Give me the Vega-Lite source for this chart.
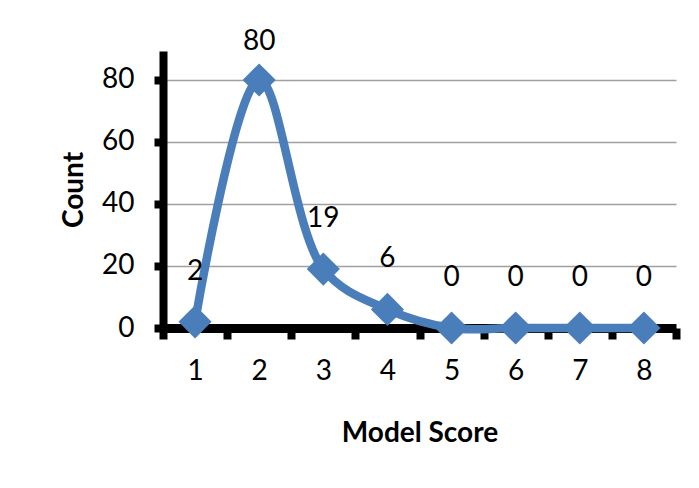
{
  "$schema": "https://vega.github.io/schema/vega-lite/v6.json",
  "width": 513,
  "height": 277,
  "autosize": "none",
  "padding": {"left": 163, "top": 51, "right": 23, "bottom": 160},
  "background": "white",
  "data": {
    "values": [
      {"score": "1", "count": 2},
      {"score": "2", "count": 80},
      {"score": "3", "count": 19},
      {"score": "4", "count": 6},
      {"score": "5", "count": 0},
      {"score": "6", "count": 0},
      {"score": "7", "count": 0},
      {"score": "8", "count": 0}
    ]
  },
  "encoding": {
    "x": {
      "field": "score",
      "type": "ordinal",
      "title": "Model Score",
      "scale": {"paddingInner": 0, "paddingOuter": 0},
      "axis": {
        "labelAngle": 0,
        "tickBand": "extent",
        "domainColor": "black",
        "domainWidth": 9,
        "tickColor": "black",
        "tickWidth": 8,
        "tickSize": 11,
        "labelPadding": 18,
        "labelFont": "Lato",
        "labelFontSize": 28,
        "labelColor": "black",
        "titleFont": "Lato",
        "titleFontSize": 28,
        "titleFontWeight": "bold",
        "titleColor": "black",
        "titlePadding": 34
      }
    },
    "y": {
      "field": "count",
      "type": "quantitative",
      "title": "Count",
      "scale": {"domain": [0, 89.35], "nice": false},
      "axis": {
        "values": [0, 20, 40, 60, 80],
        "grid": true,
        "gridColor": "#A0A0A0",
        "gridWidth": 1.5,
        "domainColor": "black",
        "domainWidth": 8,
        "tickColor": "black",
        "tickWidth": 8,
        "tickSize": 9,
        "labelPadding": 20,
        "labelFont": "Lato",
        "labelFontSize": 28,
        "labelColor": "black",
        "titleFont": "Lato",
        "titleFontSize": 28,
        "titleFontWeight": "bold",
        "titleColor": "black",
        "titlePadding": 13
      }
    }
  },
  "layer": [
    {
      "mark": {"type": "line", "interpolate": "catmull-rom", "color": "#4A7EBB", "strokeWidth": 8.5},
      "encoding": {}
    },
    {
      "mark": {"type": "point", "shape": "diamond", "filled": true, "size": 1100, "color": "#4A7EBB", "opacity": 1}
    },
    {
      "transform": [{"filter": "datum.count < 80"}],
      "mark": {"type": "text", "dy": -42, "baseline": "alphabetic", "font": "Lato", "fontSize": 28, "color": "black"},
      "encoding": {"text": {"field": "count", "type": "quantitative"}}
    },
    {
      "transform": [{"filter": "datum.count >= 80"}],
      "mark": {"type": "text", "dy": -30, "baseline": "alphabetic", "font": "Lato", "fontSize": 28, "color": "black"},
      "encoding": {"text": {"field": "count", "type": "quantitative"}}
    }
  ],
  "config": {"view": {"stroke": null}}
}
